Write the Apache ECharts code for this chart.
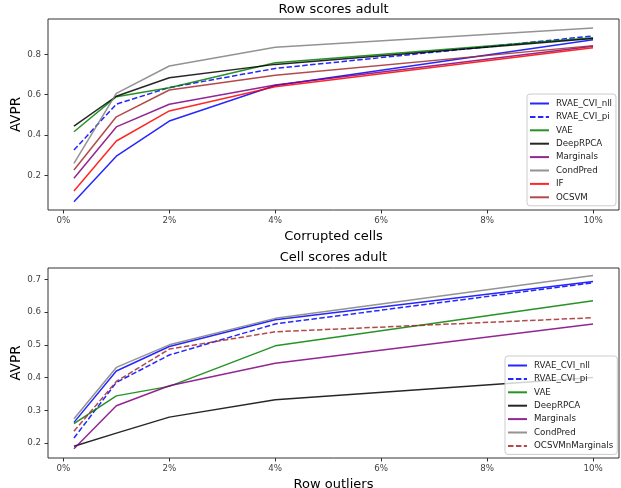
<!DOCTYPE html>
<html><head><meta charset="utf-8">
<script src="https://cdn.jsdelivr.net/npm/echarts@6/dist/echarts.min.js"></script>
<style>html,body{margin:0;padding:0;background:#fff}#c{width:621px;height:488px}</style>
</head><body><div id="c"></div>
<script>
// ---- data ----
const xValues = [0.2, 1, 2, 4, 10];
const xTicks = [0, 2, 4, 6, 8, 10];
const rowYTicks = [0.2, 0.4, 0.6, 0.8];
const cellYTicks = [0.2, 0.3, 0.4, 0.5, 0.6, 0.7];

const rowTitle = 'Row scores adult';
const cellTitle = 'Cell scores adult';
const rowXLabel = 'Corrupted cells';
const cellXLabel = 'Row outliers';
const yLabel = 'AVPR';

const rowNames = ['RVAE_CVI_nll', 'RVAE_CVI_pi', 'VAE', 'DeepRPCA', 'Marginals', 'CondPred', 'IF', 'OCSVM'];
const row_RVAE_CVI_nll = [0.069, 0.295, 0.469, 0.645, 0.872];
const row_RVAE_CVI_pi  = [0.325, 0.553, 0.635, 0.730, 0.891];
const row_VAE          = [0.416, 0.590, 0.634, 0.758, 0.882];
const row_DeepRPCA     = [0.444, 0.592, 0.684, 0.750, 0.878];
const row_Marginals    = [0.185, 0.440, 0.552, 0.648, 0.840];
const row_CondPred     = [0.259, 0.606, 0.742, 0.835, 0.930];
const row_IF           = [0.122, 0.370, 0.519, 0.639, 0.833];
const row_OCSVM        = [0.226, 0.490, 0.623, 0.696, 0.843];

const cellNames = ['RVAE_CVI_nll', 'RVAE_CVI_pi', 'VAE', 'DeepRPCA', 'Marginals', 'CondPred', 'OCSVMnMarginals'];
const cell_RVAE_CVI_nll    = [0.263, 0.420, 0.495, 0.577, 0.694];
const cell_RVAE_CVI_pi     = [0.215, 0.385, 0.469, 0.564, 0.690];
const cell_VAE             = [0.259, 0.344, 0.373, 0.497, 0.635];
const cell_DeepRPCA        = [0.190, 0.230, 0.279, 0.332, 0.400];
const cell_Marginals       = [0.182, 0.314, 0.375, 0.444, 0.564];
const cell_CondPred        = [0.274, 0.431, 0.500, 0.581, 0.712];
const cell_OCSVMnMarginals = [0.236, 0.388, 0.487, 0.540, 0.583];

const rowData = [row_RVAE_CVI_nll, row_RVAE_CVI_pi, row_VAE, row_DeepRPCA, row_Marginals, row_CondPred, row_IF, row_OCSVM];
const cellData = [cell_RVAE_CVI_nll, cell_RVAE_CVI_pi, cell_VAE, cell_DeepRPCA, cell_Marginals, cell_CondPred, cell_OCSVMnMarginals];

// ---- styles ----
const styleMap = {
  'RVAE_CVI_nll': {color: '#0000ff', dash: 'solid'},
  'RVAE_CVI_pi': {color: '#0000ff', dash: [5.5, 2.4]},
  'VAE': {color: '#008000', dash: 'solid'},
  'DeepRPCA': {color: '#000000', dash: 'solid'},
  'Marginals': {color: '#800080', dash: 'solid'},
  'CondPred': {color: '#808080', dash: 'solid'},
  'IF': {color: '#ff0000', dash: 'solid'},
  'OCSVM': {color: '#a52a2a', dash: 'solid'},
  'OCSVMnMarginals': {color: '#a52a2a', dash: [5.5, 2.4]}
};
const FONT = 'DejaVu Sans';

function mkSeries(names, data, idx) {
  return names.map((n, i) => ({
    name: n, type: 'line', xAxisIndex: idx, yAxisIndex: idx,
    data: xValues.map((x, j) => [x, data[i][j]]),
    symbol: 'none', showSymbol: false, animation: false,
    color: styleMap[n].color,
    lineStyle: {color: styleMap[n].color, width: 1.5, type: styleMap[n].dash, opacity: 0.85},
    emphasis: {disabled: true}
  }));
}

function mkX(idx, name) {
  return {
    type: 'value', gridIndex: idx, min: -0.29, max: 10.49,
    name: name, nameLocation: 'middle', nameGap: 20, nameMoveOverlap: false,
    nameTextStyle: {fontFamily: FONT, fontSize: 13, color: '#000'},
    splitLine: {show: false}, axisLine: {show: false, onZero: false},
    axisTick: {show: true, inside: false, length: 3.5, customValues: xTicks, lineStyle: {color: '#333'}},
    axisLabel: {customValues: xTicks, formatter: v => v + '%', fontFamily: FONT, fontSize: 8.7, color: '#444', margin: 6}
  };
}
function mkY(idx, min, max, ticks) {
  return {
    type: 'value', gridIndex: idx, min: min, max: max,
    splitLine: {show: false}, axisLine: {show: false, onZero: false},
    axisTick: {show: true, inside: false, length: 3.5, customValues: ticks, lineStyle: {color: '#333'}},
    axisLabel: {customValues: ticks, formatter: v => v.toFixed(1), fontFamily: FONT, fontSize: 8.7, color: '#444', margin: 7}
  };
}
function mkLegend(names, left, top) {
  return {
    data: names, orient: 'vertical', left: left, top: top,
    itemWidth: 19, itemHeight: 10, itemGap: 4.4,
    padding: [5, 4, 4, 2],
    backgroundColor: 'rgba(255,255,255,0.8)', borderColor: '#ccc', borderWidth: 1, borderRadius: 3,
    itemStyle: {opacity: 0},
    textStyle: {fontFamily: FONT, fontSize: 8.7, color: '#222', padding: [0, 0, 0, 2]},
    selectedMode: false
  };
}
function mkYName(cy) {
  return {
    type: 'text', x: 16, y: cy, rotation: Math.PI / 2, silent: true,
    style: {text: yLabel, font: '13.5px "DejaVu Sans"', fill: '#000', align: 'center', verticalAlign: 'middle'}
  };
}

const chart = echarts.init(document.getElementById('c'), null, {renderer: 'canvas'});
chart.setOption({
  animation: false,
  backgroundColor: '#fff',
  title: [
    {text: rowTitle, left: 333.5, top: 3, padding: 0, textAlign: 'center', textStyle: {fontFamily: FONT, fontSize: 13, fontWeight: 'normal', color: '#000'}},
    {text: cellTitle, left: 333.5, top: 251, padding: 0, textAlign: 'center', textStyle: {fontFamily: FONT, fontSize: 13, fontWeight: 'normal', color: '#000'}}
  ],
  grid: [
    {left: 48, right: 2, top: 19, height: 191, outerBoundsMode: 'none', containLabel: false, show: true, borderColor: '#333', borderWidth: 1, backgroundColor: 'transparent'},
    {left: 48, right: 2, top: 268, height: 190, outerBoundsMode: 'none', containLabel: false, show: true, borderColor: '#333', borderWidth: 1, backgroundColor: 'transparent'}
  ],
  graphic: [mkYName(114.5), mkYName(363)],
  xAxis: [mkX(0, rowXLabel), mkX(1, cellXLabel)],
  yAxis: [mkY(0, 0.028, 0.975, rowYTicks), mkY(1, 0.154, 0.735, cellYTicks)],
  legend: [mkLegend(rowNames, 527, 94), mkLegend(cellNames, 505, 356)],
  series: mkSeries(rowNames, rowData, 0).concat(mkSeries(cellNames, cellData, 1))
});
</script></body></html>
